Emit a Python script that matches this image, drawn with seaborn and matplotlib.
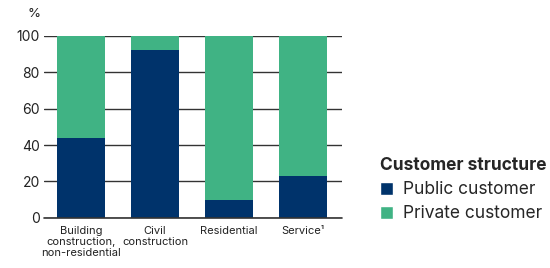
import pandas as pd
import seaborn as sns
import matplotlib.pyplot as plt
from matplotlib.patches import Patch

categories = ["Building\nconstruction,\nnon-residential", "Civil\nconstruction", "Residential", "Service\u00b9"]
public = [44, 92, 10, 23]
private = [56, 8, 90, 77]

NAVY = "#00336b"
GREEN = "#40b384"

df = pd.DataFrame({"segment": categories, "public": public, "private": private})
df["total"] = df["public"] + df["private"]

sns.set_theme(style="white")
plt.rcParams['font.family'] = ['Inter', 'DejaVu Sans']

fig = plt.figure(figsize=(5.5, 2.68), dpi=100)
ax = fig.add_axes([0.08, 0.187, 0.542, 0.679])

ax.set_axisbelow(True)
ax.yaxis.grid(True, color="#333333", linewidth=1.0, zorder=0)

sns.barplot(data=df, x="segment", y="total", color=GREEN, width=0.65,
            saturation=1, linewidth=0, ax=ax, zorder=2)
sns.barplot(data=df, x="segment", y="public", color=NAVY, width=0.65,
            saturation=1, linewidth=0, ax=ax, zorder=3)
ax.axhline(0, color="#333333", linewidth=1.2, zorder=4, clip_on=False)

ax.set_ylim(0, 100)
ax.set_xlim(-0.5, 3.53)
ax.set_yticks(range(0, 101, 20))
ax.tick_params(axis="y", labelsize=10, length=0, pad=3, colors="#222222")
ax.tick_params(axis="x", labelsize=8, length=0, pad=6, colors="#222222")
for lbl in ax.get_xticklabels():
    lbl.set_linespacing(1.1)
ax.set_xlabel("")
ax.set_ylabel("")
sns.despine(ax=ax, left=True, bottom=True)
ax.text(-0.055, 1.12, "%", transform=ax.transAxes, fontsize=9.5, color="#222222",
        ha="left", va="center")

handles = [Patch(facecolor=NAVY, label="Public customer"),
           Patch(facecolor=GREEN, label="Private customer")]
leg = fig.legend(handles=handles, title="Customer structure", loc="upper left",
                 bbox_to_anchor=(0.675, 0.445), frameon=False, fontsize=12.5,
                 title_fontproperties={"weight": "bold", "size": 12.5},
                 handlelength=0.75, handleheight=0.75, handletextpad=0.6,
                 labelspacing=0.4, borderpad=0, alignment="left")

fig.savefig("out.png", dpi=100)
